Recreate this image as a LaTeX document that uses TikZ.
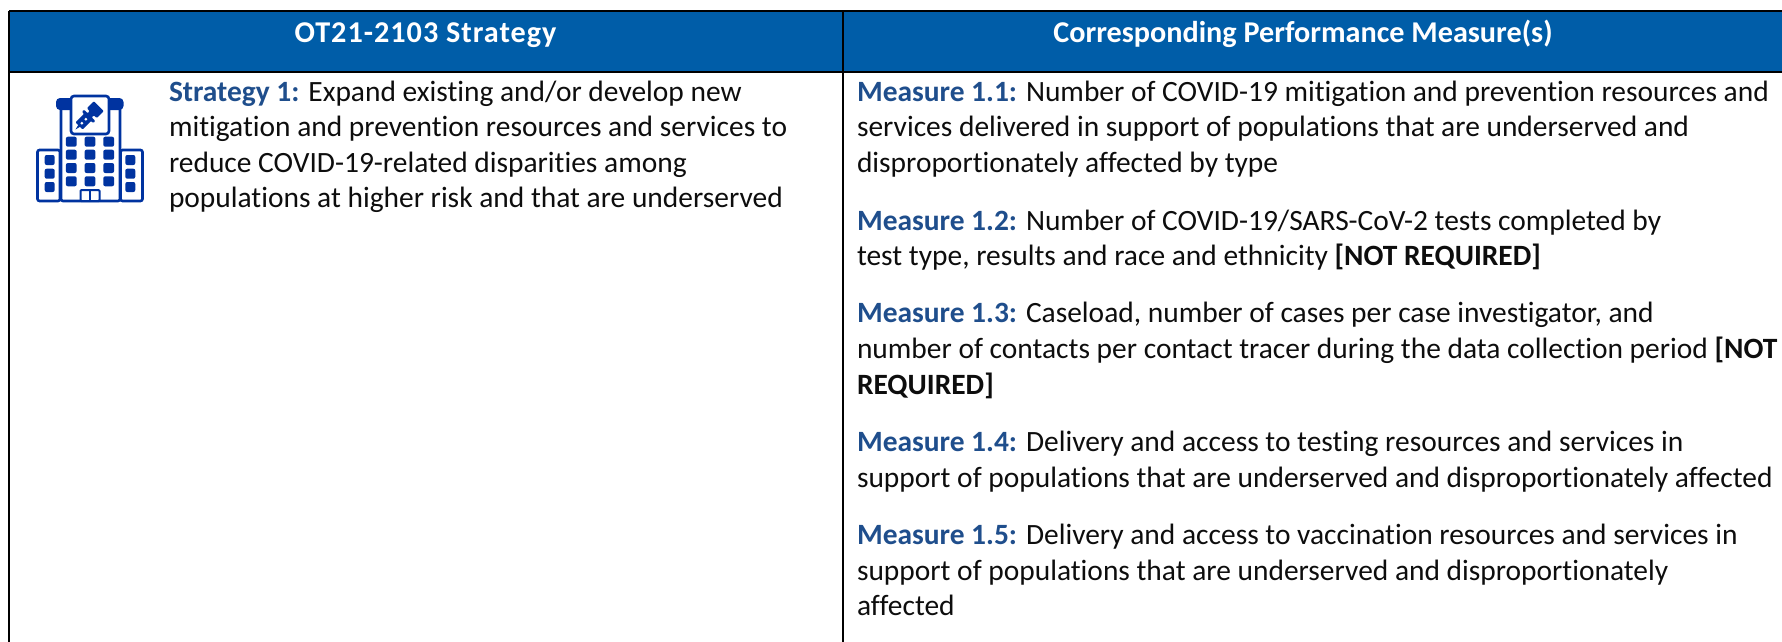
\documentclass[tikz,border=0pt]{standalone}
\usepackage{fontspec}
\setmainfont{Carlito}[Ligatures=CommonOff]
\definecolor{hdr}{HTML}{005DA8}
\definecolor{lbl}{HTML}{1F4E8C}
\definecolor{ico}{HTML}{0033A0}
\newcommand{\lab}[1]{{\bfseries\color{lbl}#1}}
\tikzset{
  x=1pt,y=-1pt,
  rule/.style={draw=black,line width=2.4pt},
  head/.style={font=\fontsize{30.2}{35}\selectfont\bfseries,text=white,anchor=base,inner sep=0pt},
  txt/.style={font=\fontsize{29.45}{35}\selectfont,text=black!95,anchor=base west,inner sep=0pt,outer sep=0pt},
  icoline/.style={draw=ico,line width=2.6pt,fill=white,rounded corners=2pt},
  icofill/.style={fill=ico,rounded corners=2pt},
}
\begin{document}
\begin{tikzpicture}
\useasboundingbox (0,0) rectangle (1782,642);
\fill[hdr] (9,11) rectangle (1782,72);
\coordinate (tl) at (9,11); \coordinate (tr) at (1782,11);
\coordinate (ml) at (9,72); \coordinate (mr) at (1782,72);
\coordinate (bl) at (9,642); \coordinate (dt) at (843,11); \coordinate (db) at (843,642);
\draw[rule] (tl)--(tr) (ml)--(mr) (tl)--(bl) (dt)--(db);
\node[head] (h1) at (425.5,42.3) {\addfontfeature{LetterSpace=3.3}OT21-2103 Strategy};
\node[head] (h2) at (1303,42.3) {Corresponding Performance Measure(s)};
% icon
\draw[icoline] (37.5,150) rectangle (60,201);
\draw[icoline] (120.5,150) rectangle (142.5,201);
\draw[icoline] (61,105) rectangle (120,201);
\fill[icofill,rounded corners=4pt] (56,98) rectangle (123.5,110);
\draw[icoline,rounded corners=3pt] (71,96) rectangle (109,134);
\foreach \y in {141.7,154.7,168,181.3}{\foreach \x in {71.3,90,108.7}{\fill[icofill] (\x-5.4,\y-5) rectangle (\x+5.4,\y+5);}}
\foreach \y in {160,173.7,187}{\foreach \x in {49.7,130.3}{\fill[icofill] (\x-5,\y-5) rectangle (\x+5,\y+5);}}
\draw[icoline,line width=2pt,rounded corners=1pt] (80.5,190) rectangle (99.5,201);
\draw[ico,line width=2pt] (90,190)--(90,201);
\begin{scope}[shift={(75.5,129.5)},x={(0.707pt,0.707pt)},y={(0.707pt,-0.707pt)}]
  \fill[ico] (0,0)--(6,-1.5)--(6,1.5)--cycle;
  \fill[ico,rounded corners=1pt] (5,-5)--(17,-5)--(17,-8)--(20,-8)--(20,-3)--(23,-3)--(23,-7)--(33,-7)--(33,7)--(23,7)--(23,3)--(20,3)--(20,8)--(17,8)--(17,5)--(5,5)--cycle;
  \fill[white] (9,0) circle (1.5pt) (14.5,0) circle (1.5pt);
\end{scope}
% left
\node[txt] (s1) at (169,101.7) {\lab{Strategy 1:} Expand existing and/or develop new};
\node[txt] (s2) at (169,136.7) {mitigation and prevention resources and services to};
\node[txt] (s3) at (169,172) {reduce COVID-19-related disparities among};
\node[txt] (s4) at (169,207.5) {populations at higher risk and that are underserved};
% right
\node[txt] (m1) at (857,101.7) {\lab{Measure 1.1:} Number of COVID-19 mitigation and prevention resources and};
\node[txt] (m2) at (857,136.7) {services delivered in support of populations that are underserved and};
\node[txt] (m3) at (857,172.5) {disproportionately affected by type};
\node[txt] (m4) at (857,230.7) {\lab{Measure 1.2:} Number of COVID-19/SARS-CoV-2 tests completed by};
\node[txt] (m5) at (857,265.7) {test type, results and race and ethnicity \textbf{[NOT REQUIRED]}};
\node[txt] (m6) at (857,322.7) {\lab{Measure 1.3:} Caseload, number of cases per case investigator, and};
\node[txt] (m7) at (857,358) {number of contacts per contact tracer during the data collection period \textbf{[NOT}};
\node[txt] (m8) at (857,394) {\textbf{REQUIRED]}};
\node[txt] (m9) at (857,451.7) {\lab{Measure 1.4:} Delivery and access to testing resources and services in};
\node[txt] (m10) at (857,487) {support of populations that are underserved and disproportionately affected};
\node[txt] (m11) at (857,544) {\lab{Measure 1.5:} Delivery and access to vaccination resources and services in};
\node[txt] (m12) at (857,580) {support of populations that are underserved and disproportionately};
\node[txt] (m13) at (857,615) {affected};
\end{tikzpicture}
\end{document}
